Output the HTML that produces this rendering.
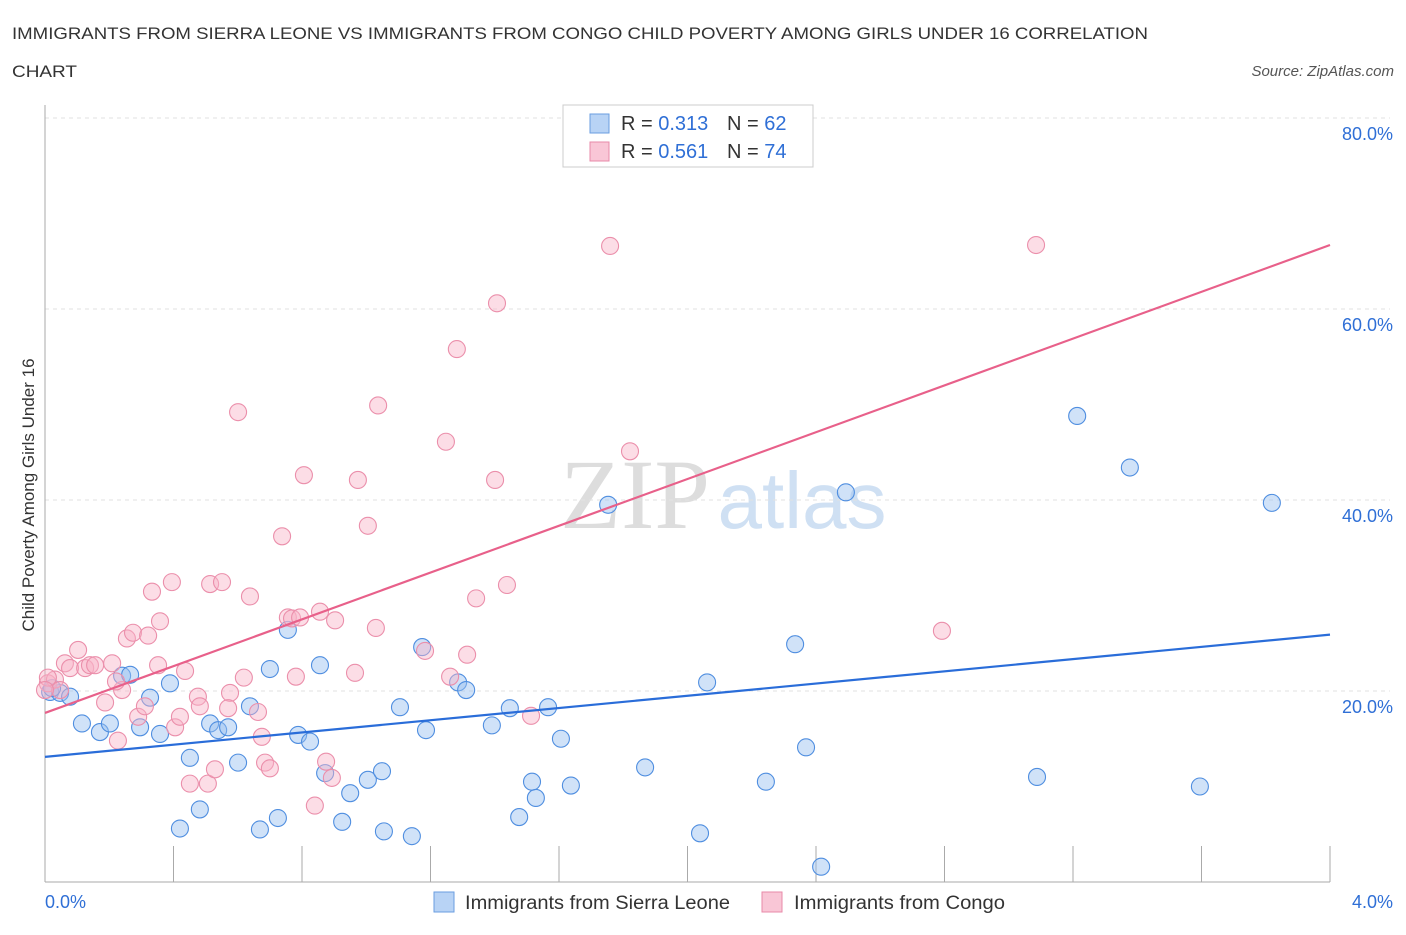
<!DOCTYPE html>
<html><head><meta charset="utf-8"><style>
body{margin:0;background:#fff;font-family:"Liberation Sans",sans-serif;}
</style></head><body>
<svg width="1406" height="930" xmlns="http://www.w3.org/2000/svg" font-family="Liberation Sans, sans-serif">
<text x="12" y="39" font-size="17" fill="#333" textLength="1136" lengthAdjust="spacingAndGlyphs">IMMIGRANTS FROM SIERRA LEONE VS IMMIGRANTS FROM CONGO CHILD POVERTY AMONG GIRLS UNDER 16 CORRELATION</text>
<text x="12" y="77" font-size="17" fill="#333" textLength="65" lengthAdjust="spacingAndGlyphs">CHART</text>
<text x="1394" y="76" font-size="15" font-style="italic" fill="#555" text-anchor="end">Source: ZipAtlas.com</text>
<text x="635" y="528" font-size="100" fill="#ddd" font-family="Liberation Serif, serif" text-anchor="middle">ZIP</text>
<text x="802" y="528" font-size="80" fill="#cfe0f3" text-anchor="middle">atlas</text>
<text transform="translate(34,495) rotate(-90)" font-size="17" fill="#333" text-anchor="middle">Child Poverty Among Girls Under 16</text>
<g id="grid"></g>
<g id="axes"></g>
<g id="pts"></g>
<g id="lines"></g>
<g>
<rect x="563" y="105" width="250" height="62" fill="#fff" stroke="#ccc"/>
<rect x="590" y="114" width="19" height="19" fill="#b8d3f5" stroke="#6a9ee0"/>
<text x="621" y="130" font-size="20" fill="#333">R = <tspan fill="#2f6fd6">0.313</tspan></text>
<text x="727" y="130" font-size="20" fill="#333">N = <tspan fill="#2f6fd6">62</tspan></text>
<rect x="590" y="142" width="19" height="19" fill="#f9c6d6" stroke="#e88aa8"/>
<text x="621" y="158" font-size="20" fill="#333">R = <tspan fill="#2f6fd6">0.561</tspan></text>
<text x="727" y="158" font-size="20" fill="#333">N = <tspan fill="#2f6fd6">74</tspan></text>
</g>
<g>
<rect x="434" y="892" width="20" height="20" fill="#b8d3f5" stroke="#6a9ee0"/>
<text x="465" y="909" font-size="19" fill="#333" textLength="265" lengthAdjust="spacingAndGlyphs">Immigrants from Sierra Leone</text>
<rect x="762" y="892" width="20" height="20" fill="#f9c6d6" stroke="#e88aa8"/>
<text x="794" y="909" font-size="19" fill="#333" textLength="211" lengthAdjust="spacingAndGlyphs">Immigrants from Congo</text>
</g>
<text x="45" y="908" font-size="18" fill="#2f6fd6">0.0%</text>
<text x="1393" y="908" font-size="18" fill="#2f6fd6" text-anchor="end">4.0%</text>
</svg>
<script>
const blueX=[0.016,0.047,0.078,0.115,0.171,0.202,0.240,0.265,0.296,0.327,0.358,0.389,0.420,0.451,0.482,0.514,0.539,0.570,0.601,0.638,0.669,0.700,0.725,0.756,0.788,0.825,0.856,0.872,0.925,0.950,1.005,1.049,1.055,1.105,1.142,1.174,1.186,1.286,1.311,1.391,1.447,1.476,1.516,1.528,1.566,1.606,1.637,1.753,1.868,2.039,2.061,2.244,2.335,2.369,2.416,2.493,3.088,3.213,3.377,3.595,3.819,0.022];
const blueY=[19.9,19.8,19.4,16.6,15.7,16.6,21.6,21.7,16.2,19.3,15.5,20.8,5.6,13.0,7.6,16.6,15.9,16.2,12.5,18.4,5.5,22.3,6.7,26.4,15.4,14.7,22.7,11.4,6.3,9.3,10.7,11.6,5.3,18.3,4.8,24.6,15.9,20.9,20.1,16.4,18.2,6.8,10.5,8.8,18.3,15.0,10.1,39.5,12.0,5.1,20.9,10.5,24.9,14.1,1.6,40.8,11.0,48.8,43.4,10.0,39.7,20.3];
const pinkX=[0.009,0.031,0.047,0.062,0.078,0.103,0.125,0.140,0.156,0.187,0.209,0.227,0.240,0.255,0.274,0.290,0.311,0.321,0.333,0.352,0.358,0.395,0.405,0.420,0.436,0.451,0.476,0.482,0.507,0.514,0.529,0.551,0.576,0.570,0.601,0.619,0.638,0.663,0.675,0.685,0.700,0.738,0.756,0.769,0.781,0.806,0.840,0.856,0.875,0.893,0.903,0.965,0.974,1.005,1.030,1.037,1.183,1.248,1.261,1.282,1.314,1.342,1.401,1.407,1.438,1.513,1.759,1.821,2.792,3.085,0.009,0.0,0.794,0.221];
const pinkY=[20.8,21.2,20.1,22.9,22.4,24.3,22.4,22.7,22.7,18.8,22.9,14.8,20.1,25.5,26.1,17.3,18.4,25.8,30.4,22.7,27.3,31.4,16.2,17.3,22.1,10.3,19.4,18.4,10.3,31.2,11.8,31.4,19.8,18.2,49.2,21.4,29.9,17.8,15.2,12.5,11.9,36.2,27.7,27.6,21.5,42.6,8.0,28.3,12.6,10.9,27.4,21.9,42.1,37.3,26.6,49.9,24.2,46.1,21.5,55.8,23.8,29.7,42.1,60.6,31.1,17.4,66.6,45.1,26.3,66.7,21.4,20.1,27.7,21.0];
const blueTrend=[13.1,25.9];
const pinkTrend=[17.7,66.7];
const yTicks=[20,40,60,80];
const yTickLabels=["20.0%","40.0%","60.0%","80.0%"];
const xTicks=[0,0.4,0.8,1.2,1.6,2.0,2.4,2.8,3.2,3.6,4.0];

const NS="http://www.w3.org/2000/svg";
const X0=45,X1=1330,Y0=882;
const sx=v=>X0+v*(X1-X0)/4;
const sy=v=>Y0-v*9.55;
function mk(tag,attrs,parent){const e=document.createElementNS(NS,tag);for(const k in attrs)e.setAttribute(k,attrs[k]);document.getElementById(parent).appendChild(e);return e;}
yTicks.forEach((t,i)=>{
  const l=mk('line',{x1:X0,x2:1390,y1:sy(t),y2:sy(t),stroke:'#e2e2e2','stroke-dasharray':'4,4'},'grid');
  
  
  const tx=mk('text',{x:1393,y:sy(t)+22,'font-size':18,fill:'#2f6fd6','text-anchor':'end'},'grid');
  tx.textContent=yTickLabels[i];
  
  
});
const ax=mk('line',{x1:X0,x2:X0,y1:105,y2:Y0,stroke:'#aaa'},'axes');


const bx=mk('line',{x1:X0,x2:X1,y1:Y0,y2:Y0,stroke:'#aaa'},'axes');


xTicks.forEach(t=>{
  const l=mk('line',{x1:sx(t),x2:sx(t),y1:Y0,y2:Y0-36,stroke:'#aaa'},'axes');
  
  
});
blueX.forEach((v,i)=>{
  const c=mk('circle',{cx:sx(v),cy:sy(blueY[i]),r:8.5,fill:'rgba(150,190,240,0.45)',stroke:'#4f8ee0','stroke-width':1.1},'pts');
  
  
});
pinkX.forEach((v,i)=>{
  const c=mk('circle',{cx:sx(v),cy:sy(pinkY[i]),r:8.5,fill:'rgba(248,180,200,0.45)',stroke:'#eb8fab','stroke-width':1.1},'pts');
  
  
});
const bl=mk('line',{x1:sx(0),x2:sx(4),y1:sy(blueTrend[0]),y2:sy(blueTrend[1]),stroke:'#2a6dd9','stroke-width':2.2},'lines');


const pl=mk('line',{x1:sx(0),x2:sx(4),y1:sy(pinkTrend[0]),y2:sy(pinkTrend[1]),stroke:'#e8608a','stroke-width':2.2},'lines');


</script>
</body></html>
